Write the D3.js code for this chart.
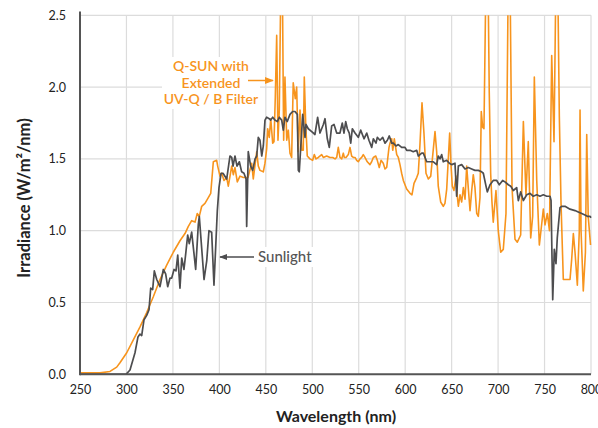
<!DOCTYPE html>
<html><head><meta charset="utf-8">
<script src="https://cdn.jsdelivr.net/npm/d3@7"></script>
<style>body{margin:0;background:#fff}svg{display:block;font-family:Lato,"Noto Sans",sans-serif}</style>
</head><body><svg id="c" width="598" height="428"></svg>
<script>
const xTicks=[250,300,350,400,450,500,550,600,650,700,750,800];
const yTicks=[0,0.5,1,1.5,2,2.5];
const sunNm=[250,299.5,303.8,309.2,312.4,314.6,316.4,318.9,321.8,324.3,326.1,328.2,330,332.6,336.1,339.7,342.2,344.4,346.9,348.7,351.2,353.3,355.2,357.6,359.5,361.9,363.8,365.9,367.6,370.2,372.7,374.5,377.3,378.4,383.5,386.4,388.8,391.7,394.2,397.8,399.6,401.8,403.9,407.9,411.4,413.3,414.7,416.8,419,421.5,424,426.5,428.7,429.4,431.1,433.7,435.9,438.4,440.2,441.9,443.7,445.6,447.3,449.1,450.9,453.7,455.2,457.4,459.9,462.4,464.5,467.1,468.8,470.6,473.1,476,478.9,481.4,483.9,485,486,489.7,492.2,493.2,495.7,499.4,502.9,505.8,508.3,511.9,513.7,516.2,518.3,520.9,523.4,526.3,529.8,532.3,534.1,536,537.7,539.8,541.4,543.1,546,549.5,552.1,555.7,558.6,561,564,565.7,568.6,570,572.9,575.8,578.3,580.8,582.9,585.5,587.2,590.1,592.6,596.2,599.8,601.6,605.2,608.7,612.4,614.1,617.8,619.5,623.2,626.7,630.3,633.9,635.6,637.5,639.3,641,644.7,647.5,650.1,653.6,655.4,657.2,660.8,664.4,667.9,671.6,675.1,678.7,682.3,684.1,687,688.4,691.3,694.8,698.5,701.3,704.9,707.4,711,713.6,716.4,720,721.8,724.3,727.2,730.8,734.3,737.9,741.6,745.1,748.7,752.3,755.9,757,758.8,760.5,762.3,763.7,766.6,768.4,772,777.4,782.8,786.3,790,793.5,796,798.9,800];
const sunVal=[0,0,0.03,0.15,0.26,0.28,0.27,0.38,0.41,0.45,0.60,0.59,0.72,0.66,0.61,0.73,0.70,0.61,0.67,0.67,0.73,0.72,0.83,0.60,0.81,0.73,0.84,0.97,0.91,0.99,0.84,0.73,1.04,1.10,0.66,0.79,1.00,0.99,0.62,1.14,1.30,1.40,1.40,1.36,1.52,1.51,1.45,1.52,1.45,1.48,1.41,1.40,1.36,1.03,1.55,1.45,1.42,1.50,1.52,1.65,1.63,1.52,1.59,1.77,1.79,1.78,1.77,1.79,1.77,1.76,1.79,1.77,1.70,1.79,1.76,1.81,1.83,1.83,1.81,1.42,1.41,1.81,1.65,1.74,1.71,1.69,1.67,1.79,1.68,1.74,1.78,1.64,1.58,1.73,1.74,1.68,1.68,1.75,1.68,1.76,1.71,1.68,1.61,1.71,1.68,1.65,1.70,1.64,1.68,1.63,1.58,1.64,1.61,1.65,1.63,1.65,1.61,1.63,1.66,1.61,1.61,1.59,1.60,1.58,1.58,1.56,1.56,1.55,1.56,1.52,1.54,1.54,1.48,1.48,1.48,1.46,1.52,1.50,1.53,1.48,1.49,1.47,1.46,1.47,1.24,1.45,1.46,1.43,1.44,1.43,1.42,1.42,1.41,1.40,1.31,1.27,1.32,1.35,1.35,1.32,1.35,1.34,1.32,1.31,1.28,1.30,1.21,1.27,1.21,1.25,1.26,1.24,1.25,1.24,1.25,1.24,1.24,1.21,0.52,0.87,0.77,0.95,1.16,1.17,1.17,1.15,1.14,1.13,1.12,1.11,1.10,1.10,1.09];
const qsunNm=[250,271.5,282.3,289.5,293,300.3,307.4,314.6,321.8,328.9,336.1,343.3,350.4,357.6,363,366.6,370.2,373.8,376.2,378.4,381,384.5,388.1,390.7,393.5,397.1,398.2,400.7,402.5,405,407.9,409.6,413.3,415,416.8,419.3,422.2,425.8,430.8,434.8,436.5,440.2,441.9,443.7,447.3,449.1,450.9,452,453.7,455.3,457.4,458.8,460.2,461.7,463.1,464.5,466.3,467.7,469.2,470.6,472.5,474.2,476,477.8,479.5,481.7,483.2,484.9,486.8,488.6,490.3,491.4,492.9,494.6,497.5,500.4,502.2,504,506.5,510.1,511.9,515.5,519.1,522,524.5,526.3,528,529.8,531.7,533.4,534.5,536.3,538.8,540.6,542.4,544.2,546,547.8,549.5,551.4,553.2,554.9,556.7,559.2,562.1,563.9,565.7,568.3,570,572.1,574,576.4,578.3,580.1,582.6,583.7,585.5,586.6,588.3,590.9,592.6,594.4,596.2,598,601.6,605.2,607.3,609.5,612.4,614.1,615.9,618.1,620.2,622.4,624.9,627.5,630.3,632.1,633.9,635.6,638.2,641,642.8,644.7,646.4,647.9,649.3,650.7,652.5,654.7,656.1,657.2,659,660.8,662.6,664.4,666.2,667.9,669.8,671.6,673.3,675.1,677,678.7,680.5,681.9,683.4,684.8,687,689.1,690.5,692,693.4,694.8,697.7,700.2,702.8,705.6,708.5,711,712.8,715,718.2,720.7,724.3,727.2,730,732.5,735.1,737.2,739,741.6,744.4,747,748.7,750.5,753,755.3,757.7,760.2,762.3,764.1,765.9,767.7,770.2,774.5,777.4,779.2,781,782.8,785.3,787.4,788.2,789.3,791.7,794,795.4,797,799.5];
const qsunVal=[0.01,0.01,0.02,0.05,0.08,0.15,0.24,0.33,0.43,0.54,0.66,0.76,0.85,0.93,0.98,1.03,1.07,1.06,1.12,1.10,1.17,1.19,1.23,1.26,1.48,1.49,1.45,1.38,1.40,1.35,1.37,1.31,1.45,1.39,1.44,1.34,1.38,1.37,1.37,1.47,1.36,1.55,1.45,1.42,1.41,1.47,1.57,1.71,1.65,1.78,1.61,1.62,1.93,2.36,1.63,1.84,2.8,2.8,1.63,2.07,1.63,1.70,1.54,1.51,2.03,1.92,2.00,1.55,1.84,1.56,1.56,2.07,1.75,1.52,1.50,1.49,1.53,1.50,1.51,1.53,1.51,1.52,1.51,1.51,1.50,1.51,1.58,1.51,1.50,1.54,1.51,1.51,1.53,1.58,1.52,1.51,1.51,1.49,1.48,1.50,1.51,1.53,1.51,1.48,1.46,1.48,1.51,1.52,1.49,1.44,1.49,1.47,1.43,1.44,1.58,1.61,1.64,1.56,1.64,1.53,1.51,1.46,1.40,1.35,1.29,1.26,1.25,1.33,1.37,1.40,1.60,1.89,1.68,1.40,1.36,1.38,1.57,1.69,1.55,1.31,1.20,1.17,1.19,1.29,1.50,1.68,1.46,1.31,1.28,1.38,1.24,1.17,1.25,1.20,1.30,1.22,1.45,1.30,1.14,1.28,1.39,1.30,1.12,1.10,1.23,1.83,1.72,1.71,2.8,2.8,1.96,1.40,1.20,1.06,1.28,1.00,0.85,0.87,1.12,2.8,2.8,1.30,0.94,0.92,0.97,1.76,1.25,1.62,0.95,1.10,2.07,1.35,0.90,1.05,1.15,1.04,1.12,1.00,2.22,1.62,2.8,2.8,1.80,1.20,0.66,0.66,0.66,0.80,0.98,0.85,0.62,1.00,1.84,1.00,0.58,0.85,1.67,1.10,0.90];

const svg=d3.select("#c");
const L=80,R=591,T=15.3,B=374.3;
const x=d3.scaleLinear().domain([250,800]).range([L,R]);
const y=d3.scaleLinear().domain([0,2.5]).range([B,T]);
const orange="#F7941D", gray="#4D4D4F";

svg.append("g").selectAll("line").data(xTicks.slice(1)).join("line")
  .attr("x1",d=>x(d)).attr("x2",d=>x(d)).attr("y1",T).attr("y2",B)
  .attr("stroke","#dcdcdc").attr("stroke-width",1.2);
svg.append("g").selectAll("line").data(yTicks.slice(1)).join("line")
  .attr("x1",L).attr("x2",R).attr("y1",d=>y(d)).attr("y2",d=>y(d))
  .attr("stroke","#dcdcdc").attr("stroke-width",1.2);

svg.append("defs").append("clipPath").attr("id","cp").append("rect")
  .attr("x",L).attr("y",T).attr("width",R-L+2).attr("height",B-T);

const line=d3.line().x(d=>x(d[0])).y(d=>y(d[1]));
const g=svg.append("g").attr("clip-path","url(#cp)");
g.append("path").datum(qsunNm.map((n,i)=>[n,qsunVal[i]]))
  .attr("d",line).attr("fill","none").attr("stroke",orange).attr("stroke-width",1.6).attr("stroke-linejoin","round");
g.append("path").datum(sunNm.map((n,i)=>[n,sunVal[i]]))
  .attr("d",line).attr("fill","none").attr("stroke",gray).attr("stroke-width",1.7).attr("stroke-linejoin","round");

// axes
const xa=svg.append("g").attr("transform",`translate(0,${B})`)
  .call(d3.axisBottom(x).tickValues(xTicks).tickSize(0).tickPadding(11).tickFormat(d3.format("d")));
const ya=svg.append("g").attr("transform",`translate(${L},0)`)
  .call(d3.axisLeft(y).tickValues(yTicks).tickSize(0).tickPadding(14).tickFormat(d3.format(".1f")));
[xa,ya].forEach(a=>{a.select(".domain").remove();a.selectAll("text").attr("font-size",12.5).attr("fill","#222").attr("font-family","Lato,sans-serif");});
svg.append("line").attr("x1",L).attr("x2",L).attr("y1",11.5).attr("y2",B+1).attr("stroke","#555").attr("stroke-width",2);
svg.append("line").attr("x1",L).attr("x2",R).attr("y1",B).attr("y2",B).attr("stroke","#555").attr("stroke-width",2);

svg.append("text").attr("x",336).attr("y",422).attr("text-anchor","middle")
  .attr("font-size",16).attr("font-weight","bold").attr("fill","#222").text("Wavelength (nm)");
svg.append("text").attr("transform","translate(30,198) rotate(-90)").attr("text-anchor","middle")
  .attr("font-size",16.5).attr("font-weight","bold").attr("fill","#222").text("Irradiance (W/m²/nm)");

// annotations
const qLines=["Q-SUN with","Extended","UV-Q / B Filter"];
const qa=svg.append("g");
qa.append("rect").attr("x",162).attr("y",57).attr("width",98).attr("height",52).attr("fill","#fff");
qa.selectAll("text").data(qLines).join("text").attr("x",211).attr("y",(d,i)=>71+i*16.5)
  .attr("text-anchor","middle").attr("font-size",14).attr("font-weight","600").attr("fill",orange).text(d=>d);
svg.append("defs").html(`<marker id="ao" viewBox="0 0 10 10" refX="9" refY="5" markerWidth="6" markerHeight="6" orient="auto"><path d="M0,1L10,5L0,9z" fill="${orange}"/></marker>
<marker id="ag" viewBox="0 0 10 10" refX="9" refY="5" markerWidth="6" markerHeight="6" orient="auto"><path d="M0,1L10,5L0,9z" fill="${gray}"/></marker>`);
svg.append("line").attr("x1",248).attr("x2",273).attr("y1",80.5).attr("y2",80.5)
  .attr("stroke",orange).attr("stroke-width",1.5).attr("marker-end","url(#ao)");
svg.append("rect").attr("x",255).attr("y",247).attr("width",62).attr("height",20).attr("fill","#fff");
svg.append("text").attr("x",258).attr("y",262).attr("font-size",15).attr("font-weight","500").attr("fill","#555").text("Sunlight");
svg.append("line").attr("x1",254).attr("x2",220).attr("y1",257).attr("y2",257)
  .attr("stroke",gray).attr("stroke-width",1.3).attr("marker-end","url(#ag)");
</script></body></html>
